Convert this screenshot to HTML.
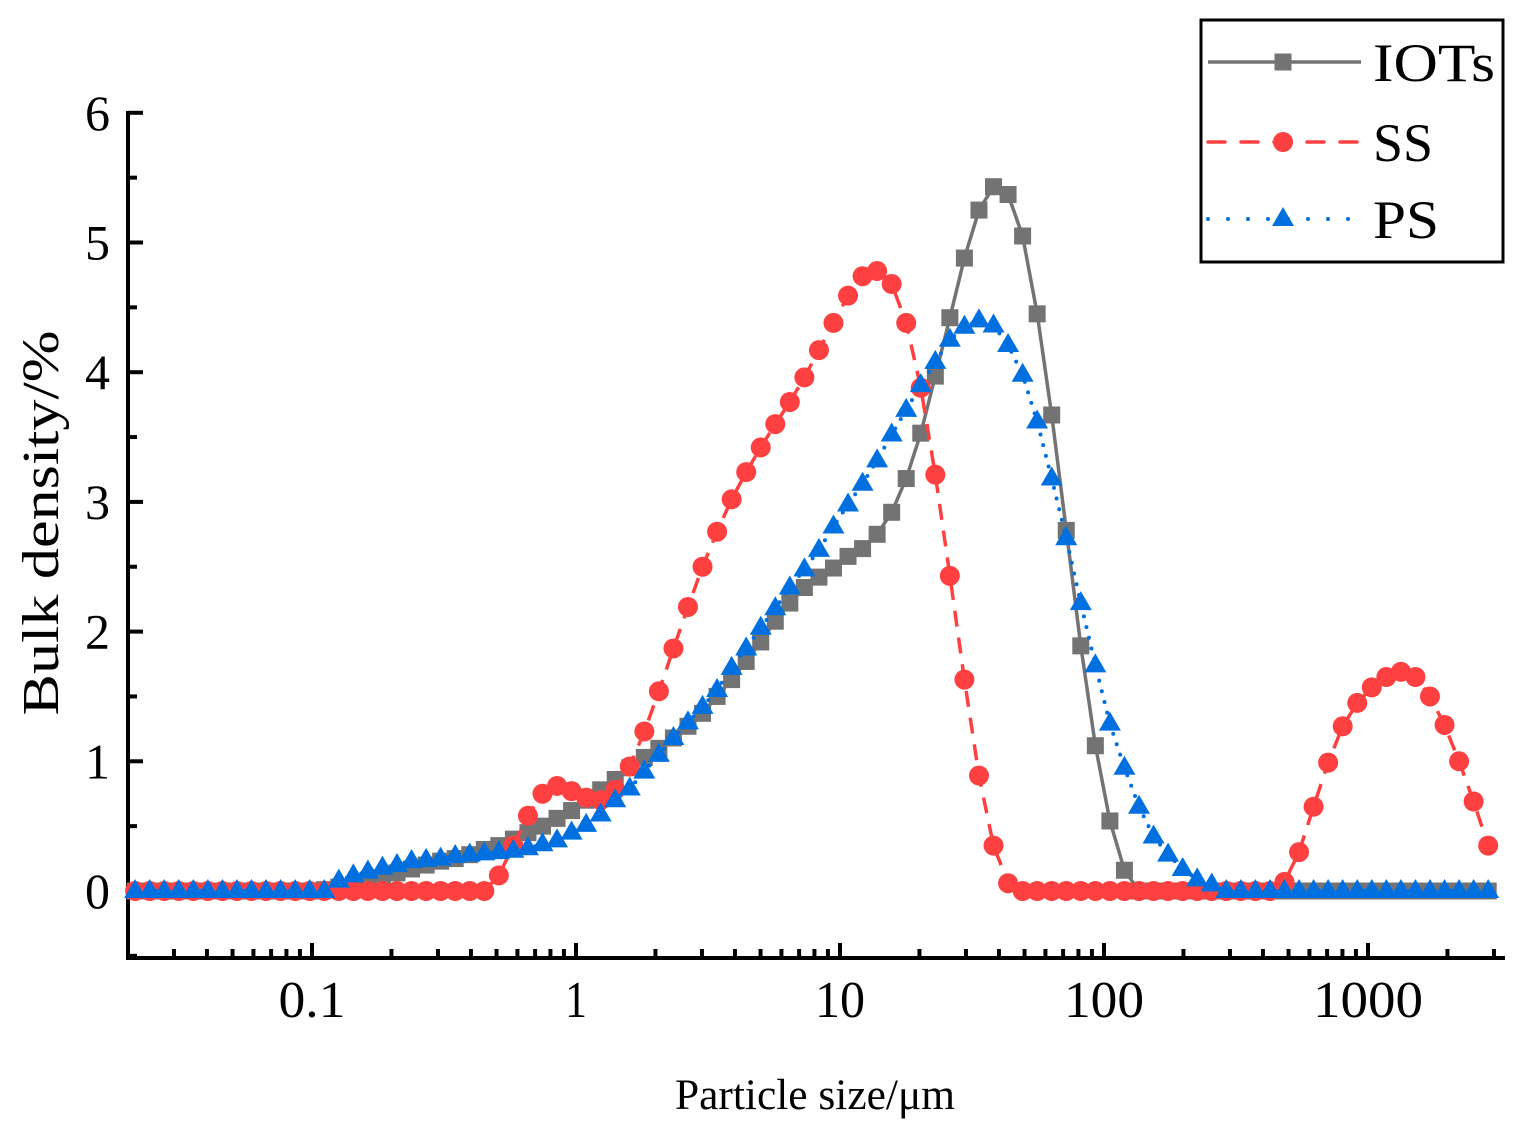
<!DOCTYPE html>
<html><head><meta charset="utf-8"><style>
html,body{margin:0;padding:0;background:#fff;}
svg{display:block;font-family:"Liberation Serif",serif;}
</style></head><body>
<svg id="chart" width="1514" height="1137" viewBox="0 0 1514 1137" xmlns="http://www.w3.org/2000/svg">
<g id="axes"></g>
<g id="series"></g>
<g id="legend"></g>
<text x="0" y="0" transform="translate(58,523) rotate(-90)" text-anchor="middle" font-size="52" textLength="385" lengthAdjust="spacingAndGlyphs">Bulk density/%</text>
<text x="815" y="1109" text-anchor="middle" font-size="43" textLength="280" lengthAdjust="spacingAndGlyphs">Particle size/μm</text>
</svg>
<script>
// Bins: geometric instrument bins (size classes)
const binCount = 94;
const binLogStart = -1.67;
const binLogStep = 0.05511;
const sizes = Array.from({length: binCount}, (_, i) => Math.pow(10, binLogStart + binLogStep * i));
const iotsValues = [0,0,0,0,0,0,0,0,0,0,0,0,
 0,0.01,0.03,0.05,0.08,0.10,0.14,0.17,0.20,0.23,0.25,0.28,0.32,0.35,0.40,0.45,0.50,0.56,0.62,0.70,0.78,0.86,0.95,1.03,1.10,1.18,1.27,1.37,1.50,1.63,1.77,1.92,2.08,2.22,2.34,2.42,2.49,2.58,2.64,2.75,2.92,3.18,3.53,3.97,4.42,4.88,5.25,5.43,5.37,5.05,4.45,3.67,2.78,1.89,1.12,0.54,0.16,
 0,0,0,0,0,0,0,0,0,0,0,0,0,0,0,0,0,0,0,0,0,0,0,0,0];
const ssValues = [0,0,0,0,0,0,0,0,0,0,0,0,0,0,0,0,0,0,0,0,0,0,0,0,0,
 0.12,0.35,0.58,0.75,0.81,0.77,0.72,0.70,0.78,0.96,1.23,1.54,1.87,2.19,2.50,2.77,3.02,3.23,3.42,3.60,3.77,3.96,4.17,4.38,4.59,4.74,4.78,4.68,4.38,3.88,3.21,2.43,1.63,0.89,0.35,0.06,
 0,0,0,0,0,0,0,0,0,0,0,0,0,0,0,0,0,0,
 0.07,0.30,0.65,0.99,1.27,1.45,1.57,1.65,1.69,1.65,1.50,1.28,1.00,0.69,0.35];
const psValues = [0,0,0,0,0,0,0,0,0,0,0,0,0,0,
 0.08,0.12,0.15,0.18,0.20,0.23,0.24,0.25,0.27,0.28,0.29,0.30,0.31,0.33,0.36,0.39,0.45,0.51,0.59,0.70,0.79,0.92,1.05,1.18,1.30,1.42,1.55,1.72,1.87,2.03,2.18,2.34,2.48,2.63,2.81,2.98,3.14,3.32,3.52,3.71,3.90,4.08,4.25,4.35,4.40,4.36,4.21,3.98,3.62,3.18,2.72,2.22,1.74,1.29,0.95,0.65,0.42,0.28,0.17,0.09,0.05,
 0,0,0,0,0,0,0,0,0,0,0,0,0,0,0,0,0,0,0];
const yTicks = [0,1,2,3,4,5,6];
const xTickLabels = ["0.1","1","10","100","1000"];
const xTickValues = [0.1,1,10,100,1000];
const seriesNames = ["IOTs","SS","PS"];

const NS = "http://www.w3.org/2000/svg";
const X0 = 312, DEC = 264, Y0 = 891, UNIT = 129.7;
const AX_L = 128, AX_B = 958, AX_T = 113, AX_R = 1505;
function xs(v){ return X0 + DEC * (Math.log10(v) + 1); }
function ys(v){ return Y0 - v * UNIT; }
function mk(tag, attrs, parent){ const e = document.createElementNS(NS, tag); for (const k in attrs) e.setAttribute(k, attrs[k]); parent.appendChild(e); return e; }

const axes = document.getElementById('axes');
let e;
e = mk('line', {x1:AX_L, y1:AX_T-2, x2:AX_L, y2:AX_B+2, stroke:'#000', 'stroke-width':4}, axes);


e = mk('line', {x1:AX_L-2, y1:AX_B, x2:AX_R, y2:AX_B, stroke:'#000', 'stroke-width':4}, axes);


yTicks.forEach(t => {
  const y = ys(t);
  let l = mk('line', {x1:AX_L, y1:y, x2:AX_L+15, y2:y, stroke:'#000', 'stroke-width':4}, axes);
  
  
  let tx = mk('text', {x:110, y:y+17, 'text-anchor':'end', 'font-size':50}, axes);
  tx.textContent = t;
  
  
  if (t < 6) {
    let m = mk('line', {x1:AX_L, y1:ys(t+0.5), x2:AX_L+9, y2:ys(t+0.5), stroke:'#000', 'stroke-width':4}, axes);
    
    
  }
});
let mm = mk('line', {x1:AX_L, y1:ys(-0.5), x2:AX_L+9, y2:ys(-0.5), stroke:'#000', 'stroke-width':4}, axes);


const xLabelWidths = [67, 22, 50, 80, 110];
xTickValues.forEach((v, k) => {
  const x = xs(v);
  let l = mk('line', {x1:x, y1:AX_B, x2:x, y2:AX_B-15, stroke:'#000', 'stroke-width':4}, axes);
  
  
  let tx = mk('text', {x:x, y:1017, 'text-anchor':'middle', 'font-size':52, textLength:xLabelWidths[k], lengthAdjust:'spacingAndGlyphs'}, axes);
  tx.textContent = xTickLabels[k];
  
  
});
for (let d = 0.01; d < 5000; d *= 10) {
  for (let m = 2; m <= 9; m++) {
    const x = xs(d * m);
    if (x < AX_L + 3 || x > AX_R) continue;
    let l = mk('line', {x1:x, y1:AX_B, x2:x, y2:AX_B-9, stroke:'#000', 'stroke-width':4}, axes);
    
    
  }
}

const series = document.getElementById('series');
function drawSeries(vals, color, dash, width, cap, marker, name){
  const g = mk('g', {}, series);
  
  
  const pts = vals.map((v, i) => xs(sizes[i]).toFixed(1) + ',' + ys(v).toFixed(1)).join(' ');
  const pl = mk('polyline', {points:pts, fill:'none', stroke:color, 'stroke-width':width, 'stroke-dasharray':dash, 'stroke-linecap':cap, 'stroke-linejoin':'round'}, g);
  
  
  vals.forEach((v, i) => {
    const m = marker(g, xs(sizes[i]), ys(v));
    
    
  });
}
const sq = c => (g, x, y) => mk('rect', {x:x-8.5, y:y-8.5, width:17, height:17, fill:c}, g);
const ci = c => (g, x, y) => mk('circle', {cx:x, cy:y, r:10, fill:c}, g);
const tr = c => (g, x, y) => mk('polygon', {points:`${x-11},${y+7} ${x+11},${y+7} ${x},${y-12}`, fill:c}, g);
const GRAY = '#737373', RED = '#FF4040', BLUE = '#0070E0';
drawSeries(iotsValues, GRAY, 'none', 3.5, 'butt', sq(GRAY), 'iots');
drawSeries(ssValues, RED, '16,11', 3.5, 'butt', ci(RED), 'ss');
drawSeries(psValues, BLUE, '0,11', 4, 'round', tr(BLUE), 'ps');

const legend = document.getElementById('legend');
let box = mk('rect', {x:1201, y:20, width:302, height:242, fill:'#fff', stroke:'#000', 'stroke-width':3}, legend);


const legendWidths = [122, 60, 66];
const rows = [[62, GRAY, 'none', 'butt', sq(GRAY), 3.5], [142, RED, '17,16', 'round', ci(RED), 3.5], [219, BLUE, '0,20', 'round', tr(BLUE), 4]];
rows.forEach((r, k) => {
  const g = mk('g', {}, legend);
  
  
  mk('line', {x1:1208, y1:r[0], x2:1361, y2:r[0], stroke:r[1], 'stroke-width':r[5], 'stroke-dasharray':r[2], 'stroke-linecap':r[3]}, g);
  r[4](g, 1283, r[0]);
  const t = mk('text', {x:1373, y:r[0]+19, 'font-size':54, textLength:legendWidths[k], lengthAdjust:'spacingAndGlyphs'}, g);
  t.textContent = seriesNames[k];
  
  
});
</script>
</body></html>
